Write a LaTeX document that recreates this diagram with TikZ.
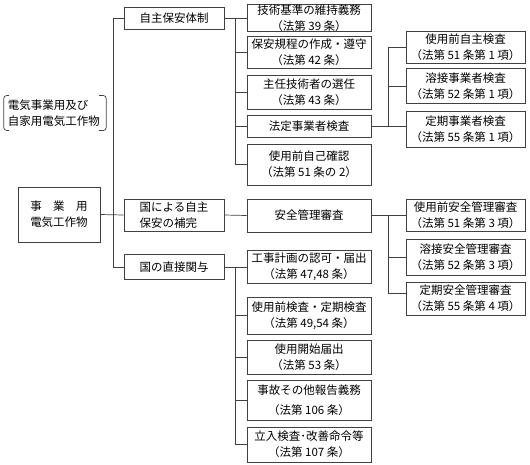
\documentclass[tikz,border=0pt]{standalone}
\usepackage{fontspec}
\setmainfont{Noto Sans CJK JP}
\usetikzlibrary{positioning}

\begin{document}
\begin{tikzpicture}[
        x=1pt, y=-1pt,
        block/.style={
            rectangle,
            draw=black!75,
            line width=0.7pt,
            inner sep=0pt,
            align=center,
            font=\fontsize{11.5}{16}\selectfont
        },
        col1/.style={block, minimum width=100pt},
        col2/.style={block, minimum width=124pt},
        col3/.style={block, minimum width=119pt},
        line/.style={
            draw=black!75,
            line width=0.7pt
        }
    ]
    \useasboundingbox (0,0) rectangle (530,464);

    % Nodes
    \node[block, minimum width=82pt, minimum height=55pt] (plant) at (59,214.5) {事　業　用\\電気工作物};
    \node[font=\fontsize{11.5}{16}\selectfont, align=left, inner sep=0pt] (scope) at (54,113) {電気事業用及び\\自家用電気工作物};

    \node[col1, minimum height=22pt] (jishu) at (174,18) {自主保安体制};
    \node[col1, minimum height=32pt, align=left] (hokan) at (174,215) {国による自主\\保安の補完};
    \node[col1, minimum height=25pt] (chokusetsu) at (174,267) {国の直接関与};

    \node[col2, minimum height=26pt] (b1) at (309,18) {技術基準の維持義務\\（法第 39 条）};
    \node[col2, minimum height=32pt] (b2) at (309,52) {保安規程の作成・遵守\\（法第 42 条）};
    \node[col2, minimum height=34pt] (b3) at (309,92) {主任技術者の選任\\（法第 43 条）};
    \node[col2, minimum height=22pt] (b4) at (309,126) {法定事業者検査};
    \node[col2, minimum height=41pt] (b5) at (309,164.5) {使用前自己確認\\（法第 51 条の 2）};
    \node[col2, minimum height=33pt] (b6) at (309,215.5) {安全管理審査};

    \node[col2, minimum height=33pt] (c1) at (309,267) {工事計画の認可・届出\\（法第 47,48 条）};
    \node[col2, minimum height=37pt] (c2) at (309,315.5) {使用前検査・定期検査\\（法第 49,54 条）};
    \node[col2, minimum height=34pt] (c3) at (309,357) {使用開始届出\\（法第 53 条）};
    \node[col2, minimum height=40pt] (c4) at (309,400) {事故その他報告義務\\[4pt]（法第 106 条）};
    \node[col2, minimum height=35pt] (c5) at (309,444.5) {立入検査･改善命令等\\（法第 107 条）};

    \node[col3, minimum height=32pt] (d1) at (465.5,47) {使用前自主検査\\（法第 51 条第 1 項）};
    \node[col3, minimum height=35pt] (d2) at (465.5,86) {溶接事業者検査\\（法第 52 条第 1 項）};
    \node[col3, minimum height=36pt] (d3) at (465.5,129) {定期事業者検査\\（法第 55 条第 1 項）};

    \node[col3, minimum height=32pt] (e1) at (465.5,215.5) {使用前安全管理審査\\（法第 51 条第 3 項）};
    \node[col3, minimum height=36pt] (e2) at (465.5,257) {溶接安全管理審査\\（法第 52 条第 3 項）};
    \node[col3, minimum height=33pt] (e3) at (465.5,298.5) {定期安全管理審査\\（法第 55 条第 4 項）};

    % Brackets
    \draw[line, rounded corners=3pt] ([shift={(1pt,4pt)}]scope.north west) -- ([shift={(-4pt,4pt)}]scope.north west)
        -- ([shift={(-4pt,-4pt)}]scope.south west) -- ([shift={(1pt,-4pt)}]scope.south west);
    \draw[line, rounded corners=3pt] ([shift={(-1pt,4pt)}]scope.north east) -- ([shift={(6pt,4pt)}]scope.north east)
        -- ([shift={(6pt,-4pt)}]scope.south east) -- ([shift={(-1pt,-4pt)}]scope.south east);

    % Lines
    \path[line] (plant.east) -- (hokan.west);
    \path[line] (jishu.west) -- ++(-10,0) |- (chokusetsu.west);

    \path[line] (jishu.east) -- (b1.west);
    \path[line] (jishu.east) ++(11,0) |- (b5.west);
    \foreach \n in {b2,b3,b4}
        \path[line] (\n.west) -- ++(-12,0);

    \path[line] (hokan.east) -- (b6.west);

    \path[line] (chokusetsu.east) -- (c1.west);
    \path[line] (chokusetsu.east) ++(11,0) |- (c5.west);
    \foreach \n in {c2,c3,c4}
        \path[line] (\n.west) -- ++(-12,0);

    \path[line] (b4.east) -- (d3.west |- b4.east);
    \path[line] (d1.west) -- ++(-17,0) |- (b4.east);
    \path[line] (d2.west) -- ++(-17,0);

    \path[line] (b6.east) -- (e1.west);
    \path[line] (e1.west) ++(-17,0) |- ([yshift=5pt]e3.west);
    \path[line] (e2.west) -- ++(-17,0);
\end{tikzpicture}
\end{document}
